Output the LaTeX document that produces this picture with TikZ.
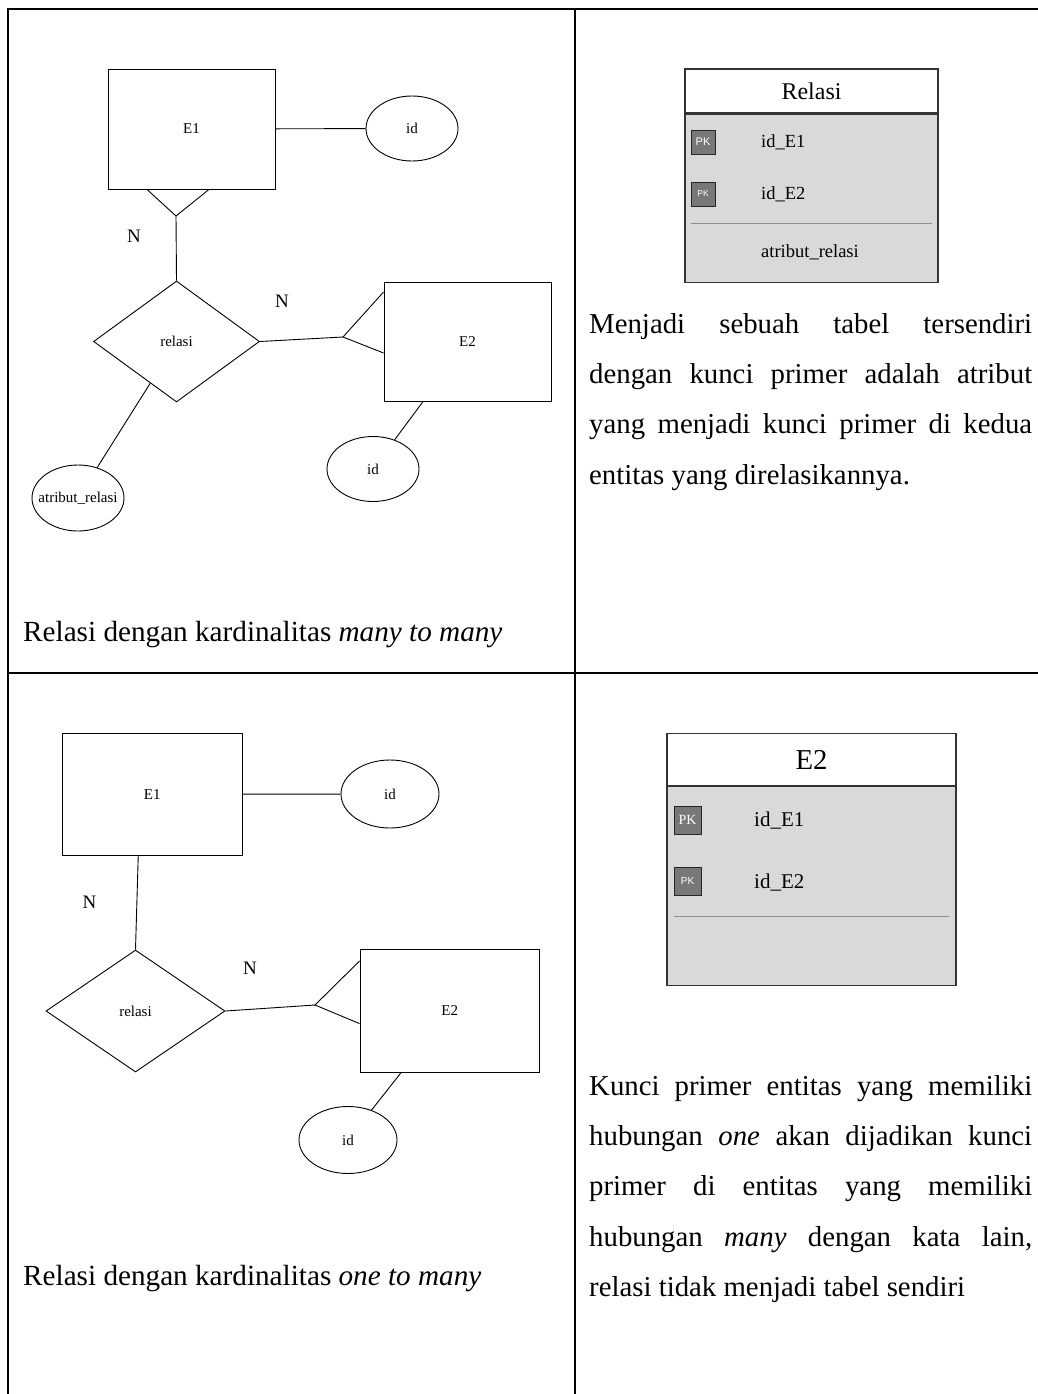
\documentclass[tikz,border=0pt]{standalone}
\usepackage{fontspec}
\setmainfont{Liberation Serif}
\newfontfamily\pksans{Liberation Sans}
\usetikzlibrary{shapes.geometric,calc}

\definecolor{tblfill}{HTML}{D9D9D9}
\definecolor{tblline}{HTML}{333333}
\definecolor{pkfill}{HTML}{787878}
\definecolor{sepline}{HTML}{8C8C8C}

\tikzset{
  grid/.style={line width=2pt, black, line cap=rect},
  link/.style={line width=0.9pt, black},
  entity/.style={draw, line width=0.9pt, rectangle, inner sep=0pt,
    font=\fontsize{15}{18}\selectfont},
  attr/.style={draw, line width=0.9pt, ellipse, inner sep=0pt,
    font=\fontsize{15}{18}\selectfont},
  rel/.style={draw, line width=0.9pt, diamond, inner sep=0pt,
    font=\fontsize{15}{18}\selectfont},
  card/.style={inner sep=0pt, font=\fontsize{19}{22}\selectfont},
  caption/.style={anchor=base west, inner sep=0pt,
    font=\fontsize{29.2}{34}\selectfont},
  para/.style={anchor=north west, inner sep=0pt, text width=443pt, align=justify,
    font=\fontsize{28.8}{50.3}\selectfont},
  thead/.style={draw=tblline, line width=1.2pt, fill=white, inner sep=0pt},
  tbody/.style={draw=tblline, line width=1.2pt, fill=tblfill, inner sep=0pt},
  pk/.style={draw=black!85, fill=pkfill, text=white, inner sep=0pt, line width=0.8pt},
  field/.style={anchor=west, inner sep=0pt},
  sep/.style={draw=sepline, line width=0.9pt}
}

\begin{document}
\begin{tikzpicture}[x=1pt,y=-1pt]
\useasboundingbox (0,0) rectangle (1038,1394);

% table grid
\draw[grid] (1038,9) -- (8,9) -- (8,1394);
\draw[grid] (575,9) -- (575,1394);
\draw[grid] (8,673) -- (1038,673);

% ---------- many to many: ER diagram ----------
\node[entity, minimum width=167pt, minimum height=120pt] (e1a) at (191.5,129) {E1};
\node[attr, minimum width=92pt, minimum height=65pt] (ida) at (412,128.5) {id};
\node[rel, minimum width=166pt, minimum height=121pt] (ra) at (176.5,341.5) {relasi};
\node[entity, minimum width=167pt, minimum height=119pt] (e2a) at (467.5,341.5) {E2};
\node[attr, minimum width=92pt, minimum height=65pt] (idb) at (373,469) {id};
\node[attr, minimum width=92pt, minimum height=66pt, inner xsep=-8pt] (ara) at (78,498) {atribut\_relasi};

\draw[link] (e1a) -- (ida);
\coordinate (cfa) at (176,216);
\draw[link] ($(e1a.south)+(-44.5,0)$) -- (cfa) -- ($(e1a.south)+(17.5,0)$);
\draw[link] (cfa) -- (ra.north);
\coordinate (cfb) at (343,337);
\draw[link] (ra.east) -- (cfb);
\draw[link] ($(e2a.west)+(0,-49.5)$) -- (cfb) -- ($(e2a.west)+(0,11.5)$);
\draw[link] (e2a) -- (idb);
\draw[link] (ra) -- (ara);

\node[card] (na) at (134,236) {N};
\node[card] (nb) at (282,301) {N};

\node[caption] (capa) at (23,641) {Relasi dengan kardinalitas \textit{many to many}};

% ---------- many to many: resulting table ----------
\node[thead, minimum width=253pt, minimum height=44pt,
  font=\fontsize{24}{28}\selectfont] (tra) at (811.5,91) {Relasi};
\node[tbody, minimum width=253pt, minimum height=168pt, anchor=north] (trb) at (tra.south) {};
\node[pk, minimum width=24pt, minimum height=24pt,
  font=\pksans\fontsize{11}{12}\selectfont] (pka) at (703,142) {PK};
\node[pk, minimum width=24pt, minimum height=24pt,
  font=\pksans\fontsize{8.5}{10}\selectfont] (pkb) at (703,194) {PK};
\node[field, font=\fontsize{18.5}{22}\selectfont] (fa) at (761,142) {id\_E1};
\node[field, font=\fontsize{18.5}{22}\selectfont] (fb) at (761,194) {id\_E2};
\draw[sep] (691,223) -- (932,223);
\node[field, font=\fontsize{18.5}{22}\selectfont] (fc) at (761,252) {atribut\_relasi};

\node[para] (pa) at (589,313) {\hyphenpenalty=10000
Menjadi sebuah tabel tersendiri\linebreak
dengan kunci primer adalah atribut\linebreak
yang menjadi kunci primer di kedua\linebreak
entitas yang direlasikannya.};

% ---------- one to many: ER diagram ----------
\node[entity, minimum width=179.5pt, minimum height=121.4pt] (e1c) at (152.25,794.3) {E1};
\node[attr, minimum width=98pt, minimum height=68pt] (idc) at (390,794) {id};
\node[rel, minimum width=179pt, minimum height=122pt] (rc) at (135.5,1011) {relasi};
\node[entity, minimum width=179.4pt, minimum height=122.5pt] (e2c) at (449.7,1010.75) {E2};
\node[attr, minimum width=98pt, minimum height=67pt] (idd) at (348,1140) {id};

\draw[link] (e1c) -- (idc);
\draw[link] ($(e1c.south)+(-14,0)$) -- (rc.north);
\coordinate (cfc) at (315,1005);
\draw[link] (rc.east) -- (cfc);
\draw[link] ($(e2c.west)+(0,-49.75)$) -- (cfc) -- ($(e2c.west)+(0,12.85)$);
\draw[link] (e2c) -- (idd);

\node[card] (nc) at (89.6,902) {N};
\node[card] (nd) at (250,968) {N};

\node[caption] (capb) at (23,1285) {Relasi dengan kardinalitas \textit{one to many}};

% ---------- one to many: resulting table ----------
\node[thead, minimum width=289pt, minimum height=52pt,
  font=\fontsize{28.8}{32}\selectfont] (trc) at (811.5,759.6) {E2};
\node[tbody, minimum width=289pt, minimum height=199pt, anchor=north] (trd) at (trc.south) {};
\node[pk, minimum width=27pt, minimum height=28pt,
  font=\fontsize{14}{15}\selectfont] (pkc) at (687.5,820) {PK};
\node[pk, minimum width=27pt, minimum height=28pt,
  font=\pksans\fontsize{10}{12}\selectfont] (pkd) at (687.5,881.5) {PK};
\node[field, font=\fontsize{21}{24}\selectfont] (fd) at (754,820.7) {id\_E1};
\node[field, font=\fontsize{21}{24}\selectfont] (fe) at (754,882.6) {id\_E2};
\draw[sep] (674,916) -- (949,916);

\node[para] (pb) at (589,1075) {\hyphenpenalty=10000
Kunci primer entitas yang memiliki\linebreak
hubungan \textit{one} akan dijadikan kunci\linebreak
primer di entitas yang memiliki\linebreak
hubungan \textit{many} dengan kata lain,\linebreak
relasi tidak menjadi tabel sendiri};

\end{tikzpicture}
\end{document}
